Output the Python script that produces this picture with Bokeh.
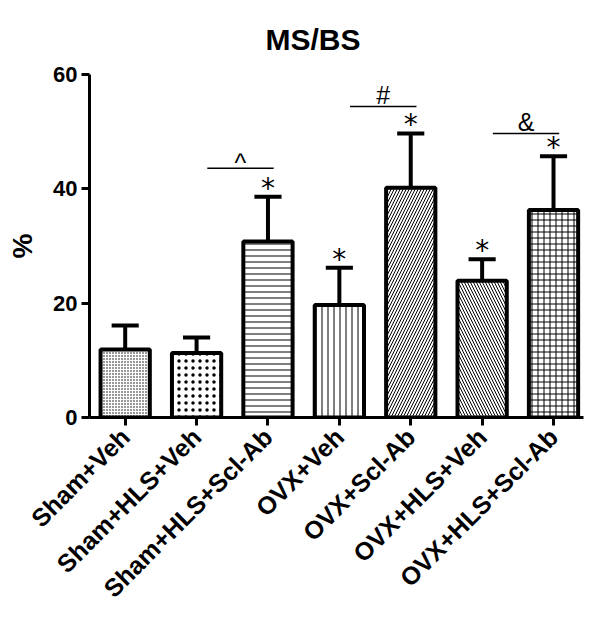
from bokeh.plotting import figure
from bokeh.models import ColumnDataSource, FixedTicker, Range1d
from bokeh.core.properties import value
from bokeh.embed import file_html
from bokeh.resources import INLINE
import math

groups = ["Sham+Veh", "Sham+HLS+Veh", "Sham+HLS+Scl-Ab", "OVX+Veh",
          "OVX+Scl-Ab", "OVX+HLS+Veh", "OVX+HLS+Scl-Ab"]
means = [11.9, 11.3, 30.8, 19.7, 40.2, 23.9, 36.3]
err_top = [16.1, 14.0, 38.6, 26.2, 49.7, 27.7, 45.7]
star_groups = [2, 3, 4, 5, 6]
sig_from = [1, 3, 5]
sig_to = [2, 4, 6]
sig_level = [43.6, 54.4, 49.7]
sig_symbols = ["^", "#", "&"]
y_ticks = [0, 20, 40, 60]

patterns = ["dot", "dot", "horizontal_line", "vertical_line",
            "right_diagonal_line", "left_diagonal_line", "cross"]
hscale = [3, 7, 6, 6, 6, 6, 6]
hweight = [2.6, 5.5, 1, 1, 1, 1, 1]

FONT = "Liberation Sans"
xs = list(range(len(groups)))

p = figure(width=590, height=618, output_backend="svg", toolbar_location=None,
           x_range=Range1d(-0.5, 6.42), y_range=Range1d(0, 60),
           min_border_left=89, min_border_right=7, min_border_top=74,
           min_border_bottom=201)
p.title.text = "MS/BS"
p.title.align = "left"
p.title.offset = 176
p.title.text_font = FONT
p.title.text_font_size = "30px"
p.title.text_font_style = "bold"
p.title.text_color = "black"
p.title.standoff = 38
p.outline_line_color = None
p.grid.visible = False
p.background_fill_color = "white"

src = ColumnDataSource(dict(x=xs, top=means, err=err_top, pat=patterns,
                            hs=hscale, hw=hweight))
p.vbar(x="x", top="top", width=0.69, source=src, fill_color="white",
       line_color="black", line_width=4, hatch_pattern="pat",
       hatch_scale="hs", hatch_weight="hw", hatch_color="black")
p.segment(x0="x", y0="top", x1="x", y1="err", source=src, line_color="black",
          line_width=4)
p.segment(x0=[x - 0.19 for x in xs], y0=err_top, x1=[x + 0.19 for x in xs],
          y1=err_top, line_color="black", line_width=4)

p.text(x=star_groups, y=[err_top[i] for i in star_groups], text=["*"] * len(star_groups),
       text_align="center", text_baseline="bottom", text_font=value("DejaVu Sans"),
       text_font_size="28px", y_offset=8)

p.segment(x0=[a + 0.15 for a in sig_from], y0=sig_level,
          x1=[b + 0.08 for b in sig_to], y1=sig_level,
          line_color="black", line_width=1.5)
sym_src = ColumnDataSource(dict(
    x=[(a + b) / 2 + 0.115 for a, b in zip(sig_from, sig_to)], y=sig_level,
    t=sig_symbols, yo=[9, 2, 3]))
p.text(x="x", y="y", text="t", y_offset="yo", source=sym_src,
       text_align="center", text_baseline="bottom",
       text_font=value(FONT), text_font_size="25px")

p.xaxis.ticker = FixedTicker(ticks=xs)
p.xaxis.major_label_overrides = {i: g for i, g in enumerate(groups)}
p.xaxis.major_label_orientation = math.pi / 4
p.yaxis.ticker = FixedTicker(ticks=y_ticks)
for ax in (p.xaxis, p.yaxis):
    ax.axis_line_width = 3
    ax.major_tick_line_width = 3
    ax.minor_tick_line_color = None
    ax.major_tick_in = 0
    ax.major_label_text_font = FONT
    ax.major_label_text_font_style = "bold"
    ax.major_label_text_color = "black"
p.xaxis.major_tick_out = 8
p.yaxis.major_tick_out = 8
p.xaxis.major_label_text_font_size = "25px"
p.yaxis.major_label_text_font_size = "22px"
p.xaxis.major_label_standoff = 7
p.yaxis.major_label_standoff = 4
p.yaxis.axis_label = "%"
p.yaxis.axis_label_text_font = FONT
p.yaxis.axis_label_text_font_style = "bold"
p.yaxis.axis_label_text_font_size = "28px"
p.yaxis.axis_label_text_color = "black"
p.yaxis.axis_label_standoff = 12

open("out.html", "w").write(file_html(p, INLINE))
